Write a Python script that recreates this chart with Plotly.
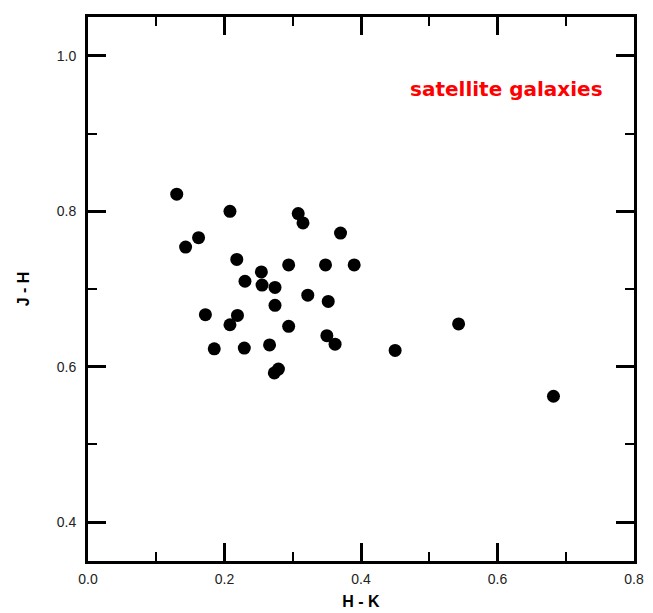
import plotly.graph_objects as go

# H - K colour (x) and J - H colour (y) of the satellite galaxies
h_minus_k = [0.130, 0.208, 0.308, 0.315, 0.370, 0.162, 0.143, 0.218, 0.294, 0.348,
             0.390, 0.254, 0.230, 0.255, 0.274, 0.322, 0.352, 0.274, 0.172, 0.219,
             0.208, 0.294, 0.350, 0.362, 0.185, 0.229, 0.266, 0.450, 0.279, 0.273,
             0.543, 0.682]
j_minus_h = [0.822, 0.800, 0.797, 0.785, 0.772, 0.766, 0.754, 0.738, 0.731, 0.731,
             0.731, 0.722, 0.710, 0.705, 0.702, 0.692, 0.684, 0.679, 0.667, 0.666,
             0.654, 0.652, 0.640, 0.629, 0.623, 0.624, 0.628, 0.621, 0.597, 0.592,
             0.655, 0.562]

x_ticks = [0.0, 0.2, 0.4, 0.6, 0.8]
y_ticks = [0.4, 0.6, 0.8, 1.0]
x_title = "H - K"
y_title = "J - H"
label_text = "satellite galaxies"

FONT = "Liberation Sans, Arial, Helvetica, sans-serif"

fig = go.Figure()
fig.add_trace(go.Scatter(
    x=h_minus_k, y=j_minus_h, mode="markers",
    marker=dict(size=13, color="black", line=dict(width=0)),
    showlegend=False, hoverinfo="x+y",
))

axis_common = dict(
    showgrid=False, zeroline=False,
    showline=True, linecolor="black", linewidth=3, mirror="allticks",
    ticks="inside", ticklen=18, tickwidth=3, tickcolor="black",
    tickfont=dict(family=FONT, size=14, color="#222"),
    minor=dict(ticks="inside", ticklen=9, tickwidth=2, tickcolor="black", dtick=0.1, showgrid=False),
)

fig.update_xaxes(
    range=[0.0, 0.8], tickvals=x_ticks, tickformat=".1f",
    title=dict(text=f"<b>{x_title}</b>", font=dict(family=FONT, size=16, color="black"), standoff=11),
    ticklabelstandoff=3,
    **axis_common,
)
fig.update_yaxes(
    range=[0.35, 1.05], tickvals=y_ticks, tickformat=".1f",
    title=dict(text=f"<b>{y_title}</b>", font=dict(family=FONT, size=16, color="black"), standoff=24),
    ticklabelstandoff=6,
    **axis_common,
)

fig.add_annotation(
    x=0.613, y=0.958, xref="x", yref="y", xanchor="center", yanchor="middle",
    text=f"<b>{label_text}</b>", showarrow=False,
    font=dict(family="DejaVu Sans, Verdana, sans-serif", size=20, color="red"),
)

# the page body adds an 8px offset, so margins are set relative to it
fig.update_layout(
    width=653, height=613,
    margin=dict(l=80, r=27, t=6, b=60),
    paper_bgcolor="white", plot_bgcolor="white",
)

fig.write_html("out.html")
